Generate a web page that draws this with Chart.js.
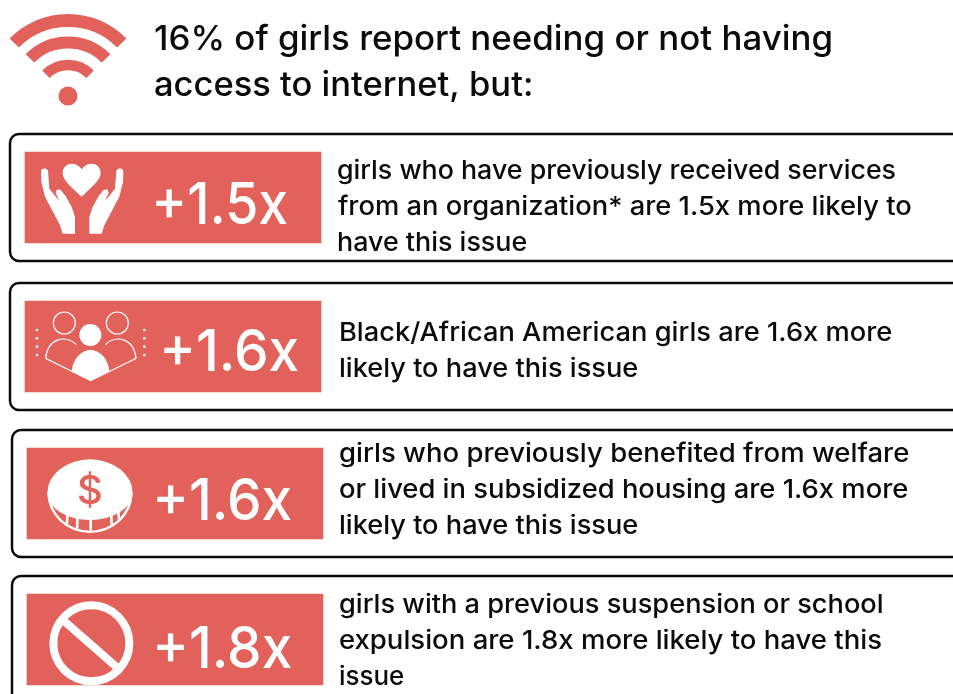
<!DOCTYPE html>
<html>
<head>
<meta charset="utf-8">
<style>
html, body { margin: 0; padding: 0; background: #fff; overflow: hidden; }
canvas { display: block; }
</style>
<script src="https://cdn.jsdelivr.net/npm/chart.js@4/dist/chart.umd.min.js"></script>
</head>
<body>
<canvas id="chart" width="953" height="694"></canvas>
<script>
const titleLines = ["16% of girls report needing or not having", "access to internet, but:"];
const categories = ["Received services", "Black/African American", "Welfare or subsidized housing", "Suspension or expulsion"];
const multipliers = [1.5, 1.6, 1.6, 1.8];
// every red box has the same length in the picture, the number is only printed on it
const boxLength = [1, 1, 1, 1];
const rowLines = [
    ["girls who have previously received services", "from an organization* are 1.5x more likely to", "have this issue"],
    ["Black/African American girls are 1.6x more", "likely to have this issue"],
    ["girls who previously benefited from welfare", "or lived in subsidized housing are 1.6x more", "likely to have this issue"],
    ["girls with a previous suspension or school", "expulsion are 1.8x more likely to have this", "issue"]
];

const RED = "#e2615a";
const INK = "#0b0b0b";
const FONT = "Inter, sans-serif";

// the rows are not quite evenly spaced, these push each box onto its place
const rowDx = [0, 0, 2, 2];
const rowDy = [0, 1.67, 1.33, 0];

// [x, baseline, right edge] of each text line
const titleSpots = [[155, 50, 831], [155, 96, 531]];
const rowSpots = [
    [[338, 179, 895], [338, 215, 911], [338, 251, 527]],
    [[341, 341, 892], [340, 377, 638]],
    [[340, 462, 909], [340, 498, 908], [340, 534, 638]],
    [[340, 613, 882], [340, 649, 881], [340, 685, 404]]
];
const valueSpots = [[156, 224, 287], [164, 371, 298], [157, 520, 291], [157, 668, 291]];

function fitText(ctx, text, spot) {
    // the installed fonts run narrower than the original, so stretch each line to its real width
    const m = ctx.measureText(text);
    const inkWidth = m.actualBoundingBoxRight + m.actualBoundingBoxLeft;
    const sx = (spot[2] - spot[0]) / inkWidth;
    ctx.save();
    ctx.translate(spot[0] + m.actualBoundingBoxLeft * sx, spot[1]);
    ctx.scale(sx, 1);
    ctx.fillText(text, 0, 0);
    ctx.restore();
}

function drawWifi(ctx) {
    ctx.strokeStyle = RED;
    ctx.fillStyle = RED;
    ctx.lineCap = "butt";
    const start = Math.PI * 1.248, end = Math.PI * 1.752;
    [[75.5, 13], [53.5, 12], [31, 10.5]].forEach(arc => {
        ctx.lineWidth = arc[1];
        ctx.beginPath();
        ctx.arc(68, 96, arc[0], start, end);
        ctx.stroke();
    });
    ctx.beginPath();
    ctx.arc(68, 96, 9.5, 0, Math.PI * 2);
    ctx.fill();
}

// icons use units of a third of a pixel, measured from the box's top left corner
function drawHands(ctx) {
    ctx.fillStyle = "#fff";
    ctx.beginPath();
    ctx.moveTo(170, 134);
    ctx.bezierCurveTo(130, 98, 112, 80, 113, 62);
    ctx.bezierCurveTo(115, 28, 156, 28, 170, 52);
    ctx.bezierCurveTo(184, 28, 225, 28, 227, 62);
    ctx.bezierCurveTo(228, 80, 208, 98, 170, 134);
    ctx.closePath();
    ctx.fill();
    const hand = [[48, 62], [50, 52], [60, 49], [69, 55], [73, 110], [103, 147], [92, 122], [96, 112], [107, 114],
        [122, 132], [140, 165], [150, 194], [150, 245], [113, 245], [105, 220], [60, 134], [49, 90]];
    [1, -1].forEach(side => {
        ctx.save();
        if (side < 0) { ctx.translate(343, 0); ctx.scale(-1, 1); }
        ctx.beginPath();
        hand.forEach((p, i) => i ? ctx.lineTo(p[0], p[1]) : ctx.moveTo(p[0], p[1]));
        ctx.closePath();
        ctx.fill();
        ctx.restore();
    });
}

function drawPeople(ctx) {
    ctx.fillStyle = "#fff";
    ctx.strokeStyle = "#fff";
    ctx.lineWidth = 3.5;
    ctx.beginPath();
    ctx.arc(118, 66, 33, 0, Math.PI * 2);
    ctx.stroke();
    ctx.beginPath();
    ctx.arc(277, 66, 33, 0, Math.PI * 2);
    ctx.stroke();
    ctx.beginPath();
    ctx.arc(196, 102, 33, 0, Math.PI * 2);
    ctx.fill();
    ctx.beginPath();
    ctx.moveTo(140, 210);
    ctx.bezierCurveTo(146, 165, 175, 147, 196, 147);
    ctx.bezierCurveTo(218, 147, 248, 165, 253, 210);
    ctx.lineTo(197, 239);
    ctx.closePath();
    ctx.fill();
    ctx.beginPath();
    ctx.moveTo(154, 131);
    ctx.bezierCurveTo(125, 100, 68, 110, 62, 172);
    ctx.lineTo(197, 239);
    ctx.lineTo(333, 172);
    ctx.bezierCurveTo(327, 110, 270, 100, 241, 131);
    ctx.stroke();
    [87, 112, 137, 162].forEach(y => {
        [36, 358].forEach(x => {
            ctx.beginPath();
            ctx.arc(x, y, 4, 0, Math.PI * 2);
            ctx.fill();
        });
    });
}

function drawCoin(ctx) {
    ctx.fillStyle = "#fff";
    // rim, lower half only
    ctx.beginPath();
    ctx.ellipse(189, 135, 128, 120, 0, 0, Math.PI);
    ctx.fill();
    ctx.save();
    ctx.beginPath();
    ctx.ellipse(189, 135, 120, 113, 0, 0, Math.PI);
    ctx.clip();
    ctx.fillStyle = RED;
    ctx.fillRect(60, 130, 260, 130);
    // slots of the rim
    ctx.strokeStyle = "#fff";
    ctx.lineWidth = 8;
    [122, 152, 191, 252, 274].forEach(x => {
        ctx.beginPath();
        ctx.moveTo(x, 190);
        ctx.lineTo(x + (x - 189) * 0.06, 255);
        ctx.stroke();
    });
    ctx.restore();
    // face, flatter below its widest line than above it
    ctx.beginPath();
    ctx.ellipse(189, 135, 128, 101, 0, Math.PI, Math.PI * 2);
    ctx.ellipse(189, 135, 128, 81, 0, 0, Math.PI);
    ctx.fill();
    ctx.fillStyle = RED;
    ctx.font = "500 120px " + FONT;
    ctx.textAlign = "center";
    ctx.fillText("$", 189, 167);
    ctx.textAlign = "left";
}

function drawNoSign(ctx) {
    ctx.strokeStyle = "#fff";
    ctx.lineWidth = 24;
    ctx.beginPath();
    ctx.arc(193, 148, 114, 0, Math.PI * 2);
    ctx.stroke();
    ctx.beginPath();
    ctx.moveTo(112, 82);
    ctx.lineTo(272, 222);
    ctx.stroke();
}

const rowIcons = [drawHands, drawPeople, drawCoin, drawNoSign];

const infographic = {
    id: "infographic",
    afterDatasetsUpdate(chart) {
        chart.getDatasetMeta(0).data.forEach((bar, i) => {
            bar.x += rowDx[i];
            bar.base += rowDx[i];
            bar.y += rowDy[i];
        });
    },
    beforeDatasetsDraw(chart) {
        const ctx = chart.ctx;
        ctx.save();
        ctx.strokeStyle = "#0b0b0b";
        ctx.lineWidth = 2.5;
        chart.getDatasetMeta(0).data.forEach(bar => {
            ctx.beginPath();
            ctx.roundRect(bar.base - 15, bar.y - 63.5, 1000, 127, 9);
            ctx.stroke();
        });
        ctx.restore();
    },
    afterDatasetsDraw(chart) {
        const ctx = chart.ctx;
        ctx.save();
        ctx.textBaseline = "alphabetic";
        drawWifi(ctx);
        ctx.fillStyle = INK;
        ctx.font = "500 34px " + FONT;
        titleLines.forEach((line, i) => fitText(ctx, line, titleSpots[i]));
        ctx.font = "500 26px " + FONT;
        rowLines.forEach((lines, r) => {
            lines.forEach((line, i) => fitText(ctx, line, rowSpots[r][i]));
        });
        chart.getDatasetMeta(0).data.forEach((bar, i) => {
            ctx.save();
            ctx.translate(bar.base, bar.y - 45.5);
            ctx.scale(1 / 3, 1 / 3);
            rowIcons[i](ctx);
            ctx.restore();
            ctx.fillStyle = "#fff";
            ctx.font = "500 58px " + FONT;
            fitText(ctx, "+" + multipliers[i].toFixed(1) + "x", valueSpots[i]);
        });
        ctx.restore();
    }
};

new Chart(document.getElementById("chart"), {
    type: "bar",
    data: {
        labels: categories,
        datasets: [{
            data: boxLength,
            backgroundColor: RED,
            barThickness: 91,
            clip: false
        }]
    },
    options: {
        indexAxis: "y",
        responsive: false,
        animation: false,
        layout: { padding: { left: 25, right: 632, top: 197.5, bottom: 54.5 } },
        plugins: { legend: { display: false }, tooltip: { enabled: false } },
        scales: {
            x: { display: false, min: 0, max: 1 },
            y: { display: false, offset: false }
        }
    },
    plugins: [infographic]
});
</script>
</body>
</html>
